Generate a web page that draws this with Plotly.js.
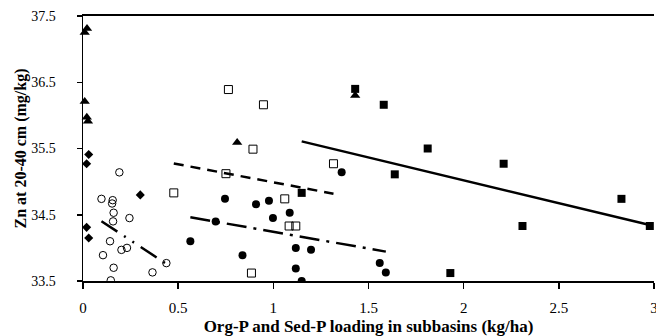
<!DOCTYPE html>
<html>
<head>
<meta charset="utf-8">
<script src="https://cdn.plot.ly/plotly-3.0.1.min.js"></script>
<style>
  html, body { margin: 0; padding: 0; background: #fff; }
  #chart { width: 656px; height: 336px; }
</style>
</head>
<body>
<div id="chart"></div>
<script>
// ---- Data ----
const filledSquareX = [1.149, 1.43, 1.58, 1.638, 1.811, 1.93, 2.21, 2.309, 2.829, 2.978];
const filledSquareY = [34.83, 36.40, 36.16, 35.11, 35.50, 33.62, 35.27, 34.33, 34.74, 34.33];

const openSquareX = [0.477, 0.751, 0.764, 0.885, 0.893, 0.948, 1.06, 1.083, 1.118, 1.316];
const openSquareY = [34.83, 35.12, 36.39, 33.62, 35.49, 36.16, 34.74, 34.33, 34.33, 35.27];

const filledCircleX = [0.564, 0.697, 0.746, 0.838, 0.909, 0.977, 0.998, 1.086, 1.118, 1.118, 1.149, 1.198, 1.359, 1.559, 1.591];
const filledCircleY = [34.10, 34.40, 34.74, 33.89, 34.66, 34.71, 34.45, 34.53, 34.00, 33.69, 33.50, 33.97, 35.14, 33.77, 33.63];

const openCircleX = [0.191, 0.097, 0.156, 0.153, 0.161, 0.244, 0.158, 0.142, 0.202, 0.231, 0.105, 0.161, 0.146, 0.365, 0.438];
const openCircleY = [35.14, 34.74, 34.72, 34.67, 34.53, 34.45, 34.40, 34.10, 33.97, 34.00, 33.89, 33.70, 33.51, 33.63, 33.77];

const triangleX = [0.021, 0.009, 0.009, 0.020, 0.026, 0.81, 1.43];
const triangleY = [37.31, 37.25, 36.21, 35.97, 35.91, 35.59, 36.30];

const diamondX = [0.030, 0.019, 0.019, 0.030, 0.301];
const diamondY = [35.41, 35.27, 34.31, 34.15, 34.80];

const xTickVals = [0, 0.5, 1, 1.5, 2, 2.5, 3];
const xTickText = ['0', '0.5', '1', '1.5', '2', '2.5', '3'];
const yTickVals = [33.5, 34.5, 35.5, 36.5, 37.5];
const yTickText = ['33.5', '34.5', '35.5', '36.5', '37.5'];

// ---- Least-squares trend line over the data's x-range ----
function trend(xs, ys) {
  const n = xs.length;
  const mx = xs.reduce((a, b) => a + b, 0) / n;
  const my = ys.reduce((a, b) => a + b, 0) / n;
  let sxy = 0, sxx = 0;
  for (let i = 0; i < n; i++) { sxy += (xs[i] - mx) * (ys[i] - my); sxx += (xs[i] - mx) ** 2; }
  const b = sxy / sxx, a = my - b * mx;
  const x0 = Math.min(...xs), x1 = Math.max(...xs);
  return { x: [x0, x1], y: [a + b * x0, a + b * x1] };
}

const tFS = trend(filledSquareX, filledSquareY);
const tOS = trend(openSquareX, openSquareY);
const tFC = trend(filledCircleX, filledCircleY);
const tOC = trend(openCircleX, openCircleY);

const traces = [
  { x: tFS.x, y: tFS.y, mode: 'lines', line: { color: '#000', width: 2.5 }, hoverinfo: 'skip' },
  { x: tOS.x, y: tOS.y, mode: 'lines', line: { color: '#000', width: 2.5, dash: '10px,7px' }, hoverinfo: 'skip' },
  { x: tFC.x, y: tFC.y, mode: 'lines', line: { color: '#000', width: 2.5, dash: '20px,7px,3px,7px' }, hoverinfo: 'skip' },
  { x: tOC.x, y: tOC.y, mode: 'lines', line: { color: '#000', width: 2.5, dash: '19px,8px,2px,8px,2px,8px' }, hoverinfo: 'skip' },
  { x: openCircleX, y: openCircleY, mode: 'markers',
    marker: { symbol: 'circle-open', size: 7.5, color: '#000', line: { width: 1, color: '#000' } } },
  { x: openSquareX, y: openSquareY, mode: 'markers',
    marker: { symbol: 'square-open', size: 8, color: '#000', line: { width: 1, color: '#000' } } },
  { x: filledCircleX, y: filledCircleY, mode: 'markers',
    marker: { symbol: 'circle', size: 8, color: '#000' } },
  { x: filledSquareX, y: filledSquareY, mode: 'markers',
    marker: { symbol: 'square', size: 8, color: '#000' } },
  { x: triangleX, y: triangleY, mode: 'markers', cliponaxis: false,
    marker: { symbol: 'triangle-up', size: 9, color: '#000' } },
  { x: diamondX, y: diamondY, mode: 'markers', cliponaxis: false,
    marker: { symbol: 'diamond', size: 7, color: '#000' } }
];

const serif = '"Liberation Serif", "Times New Roman", serif';

const layout = {
  width: 656, height: 336,
  margin: { l: 83, r: 2, t: 16, b: 55, pad: 0 },
  paper_bgcolor: '#fff', plot_bgcolor: '#fff',
  showlegend: false,
  font: { family: serif, color: '#000' },
  xaxis: {
    range: [0, 3], tickmode: 'array', tickvals: xTickVals, ticktext: xTickText,
    showgrid: false, zeroline: false,
    showline: true, linecolor: '#000', linewidth: 2, mirror: true,
    ticks: 'outside', ticklen: 6, tickwidth: 1.5, tickcolor: '#000',
    tickfont: { family: serif, size: 15, color: '#000' },
    ticklabelstandoff: 6,
    ticklabeloverflow: 'allow',
    title: { text: '<b>Org-P and Sed-P loading in subbasins (kg/ha)</b>',
             font: { family: serif, size: 17, color: '#000' }, standoff: 10 },
    automargin: false
  },
  yaxis: {
    range: [33.5, 37.5], tickmode: 'array', tickvals: yTickVals, ticktext: yTickText,
    showgrid: false, zeroline: false,
    showline: true, linecolor: '#000', linewidth: 1.5,
    ticks: 'outside', ticklen: 5, tickwidth: 1.5, tickcolor: '#000',
    tickfont: { family: serif, size: 14, color: '#000' },
    ticklabelstandoff: 18,
    title: { text: '<b>Zn at 20-40 cm (mg/kg)</b>',
             font: { family: serif, size: 16, color: '#000' }, standoff: 0 },
    automargin: false
  }
};

Plotly.newPlot('chart', traces, layout, { staticPlot: true, displayModeBar: false });
</script>
</body>
</html>
